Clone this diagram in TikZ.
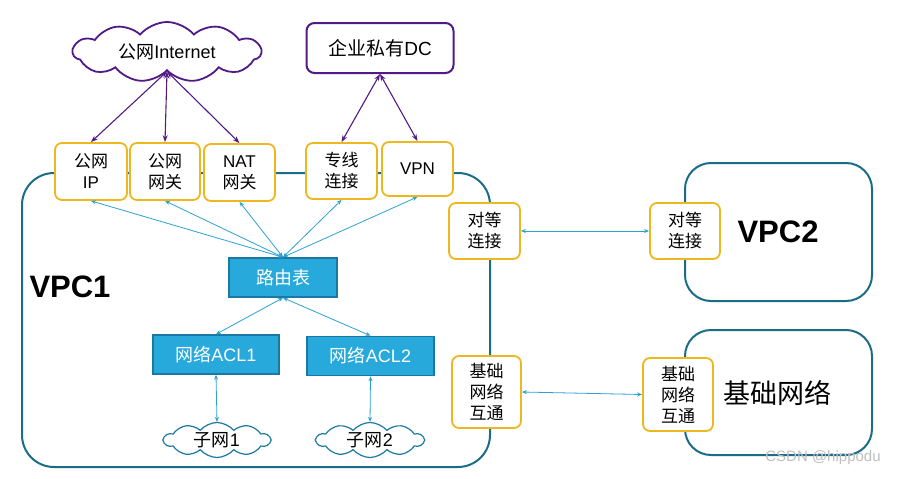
\documentclass[tikz,border=0pt]{standalone}
\usepackage{fontspec}
\setmainfont{Liberation Sans}
\newfontfamily\cjk{Noto Sans CJK SC}
\usetikzlibrary{arrows.meta,shapes.symbols}
\definecolor{ybord}{HTML}{EDB81E}
\definecolor{teal}{HTML}{1B6C87}
\definecolor{purp}{HTML}{521A86}
\definecolor{cyanarr}{HTML}{2CA2D2}
\definecolor{bluefill}{HTML}{27A9DC}
\definecolor{blueline}{HTML}{1C78A3}
\tikzset{
  ybox/.style={draw=ybord, line width=1.8pt, fill=white, rounded corners=7pt, inner sep=0pt, align=center, font=\fontsize{17}{21}\selectfont},
  bbox/.style={draw=blueline, line width=1.5pt, fill=bluefill, text=white, inner sep=0pt, minimum height=39pt, font=\fontsize{18}{20}\selectfont},
  pcloud/.style={cloud, cloud puffs=11, cloud puff arc=100, cloud ignores aspect, draw=purp, line width=1.8pt, fill=white, inner sep=0pt, font=\fontsize{18}{20}\selectfont},
  ccloud/.style={cloud, cloud puffs=10, cloud puff arc=100, cloud ignores aspect, draw=blueline, line width=1.2pt, fill=white, inner sep=0pt, minimum height=35pt, font=\fontsize{18}{20}\selectfont},
  parr/.style={draw=purp, line width=1.1pt, {Stealth[length=7pt,width=5pt]}-{Stealth[length=7pt,width=5pt]}},
  carr/.style={draw=cyanarr, line width=0.8pt, {Stealth[length=5pt,width=4pt]}-{Stealth[length=5pt,width=4pt]}},
  frame/.style={draw=teal, line width=2pt, rounded corners=32pt},
  bigtxt/.style={font=\fontsize{31}{33}\selectfont\bfseries},
}
\begin{document}
\begin{tikzpicture}[x=1pt,y=-1pt]
\useasboundingbox (0,0) rectangle (913,479);
\fill[white] (0,0) rectangle (913,479);
% frames
\draw[frame] (22,173) rectangle (490,467);
\draw[frame, rounded corners=26pt] (685,163) rectangle (872,301);
\draw[frame, rounded corners=26pt] (685,330) rectangle (872,455);
% top level
\node[pcloud, minimum width=188pt, minimum height=60pt] (inet) at (167,52) {{\cjk 公网}Internet};
\node[draw=purp, line width=2pt, rounded corners=8pt, minimum width=147pt, minimum height=50pt, inner sep=0pt, font=\fontsize{19}{21}\selectfont] (dc) at (380,48) {{\cjk 企业私有}DC};
% yellow boxes
\node[ybox, minimum width=72pt, minimum height=57pt] (ip) at (91,171.5) {{\cjk 公网}\\IP};
\node[ybox, minimum width=70pt, minimum height=57pt, font=\cjk\fontsize{17}{21}\selectfont] (gw) at (165,171.5) {公网\\网关};
\node[ybox, minimum width=71pt, minimum height=57pt] (nat) at (239.5,172.5) {NAT\\{\cjk 网关}};
\node[ybox, minimum width=71pt, minimum height=56pt, font=\cjk\fontsize{17}{21}\selectfont] (zx) at (341.5,171) {专线\\连接};
\node[ybox, minimum width=71pt, minimum height=54pt] (vpn) at (417.5,169) {VPN};
\node[ybox, minimum width=71pt, minimum height=56pt, font=\cjk\fontsize{17}{21}\selectfont] (pl) at (484.5,231) {对等\\连接};
\node[ybox, minimum width=70pt, minimum height=56pt, font=\cjk\fontsize{17}{21}\selectfont] (pr) at (685,231) {对等\\连接};
\node[ybox, minimum width=69pt, minimum height=72pt, font=\cjk\fontsize{17}{21}\selectfont] (bl) at (486.5,392) {基础\\网络\\互通};
\node[ybox, minimum width=70pt, minimum height=73pt, font=\cjk\fontsize{17}{21}\selectfont] (br) at (678,394.5) {基础\\网络\\互通};
% labels
\node[bigtxt] (vpc1) at (70,287) {VPC1};
\node[bigtxt] (vpc2) at (778,232) {VPC2};
\node[font=\cjk\fontsize{27}{29}\selectfont] (jc) at (777,393) {基础网络};
% blue boxes
\node[bbox, minimum width=108pt, font=\cjk\fontsize{18}{20}\selectfont] (rt) at (283,277.5) {路由表};
\node[bbox, minimum width=126pt] (acl1) at (216,354.5) {{\cjk 网络}ACL1};
\node[bbox, minimum width=127pt] (acl2) at (370.5,356) {{\cjk 网络}ACL2};
\node[ccloud, minimum width=106pt] (sn1) at (217,440) {{\cjk 子网}1};
\node[ccloud, minimum width=107pt] (sn2) at (370,440) {{\cjk 子网}2};
% purple arrows
\draw[parr] (inet.south) -- (ip.north);
\draw[parr] (inet.south) -- (gw.north);
\draw[parr] (inet.south) -- (nat.north);
\draw[parr] (dc.south) -- (zx.north);
\draw[parr] (dc.south) -- (vpn.north);
% cyan arrows
\draw[carr] (rt.north) -- (ip.south);
\draw[carr] (rt.north) -- (gw.south);
\draw[carr] (rt.north) -- (nat.south);
\draw[carr] (rt.north) -- (zx.south);
\draw[carr] (rt.north) -- (vpn.south);
\draw[carr] (rt.south) -- (acl1.north);
\draw[carr] (rt.south) -- (acl2.north);
\draw[carr] (acl1.south) -- (sn1.north);
\draw[carr] (acl2.south) -- (sn2.north);
\draw[carr] (pl.east) -- (pr.west);
\draw[carr] (bl.east) -- (br.west);
% watermark
\node[text=black!25, font=\fontsize{15}{17}\selectfont] (wm) at (823,458) {CSDN @hippodu};
\end{tikzpicture}
\end{document}
